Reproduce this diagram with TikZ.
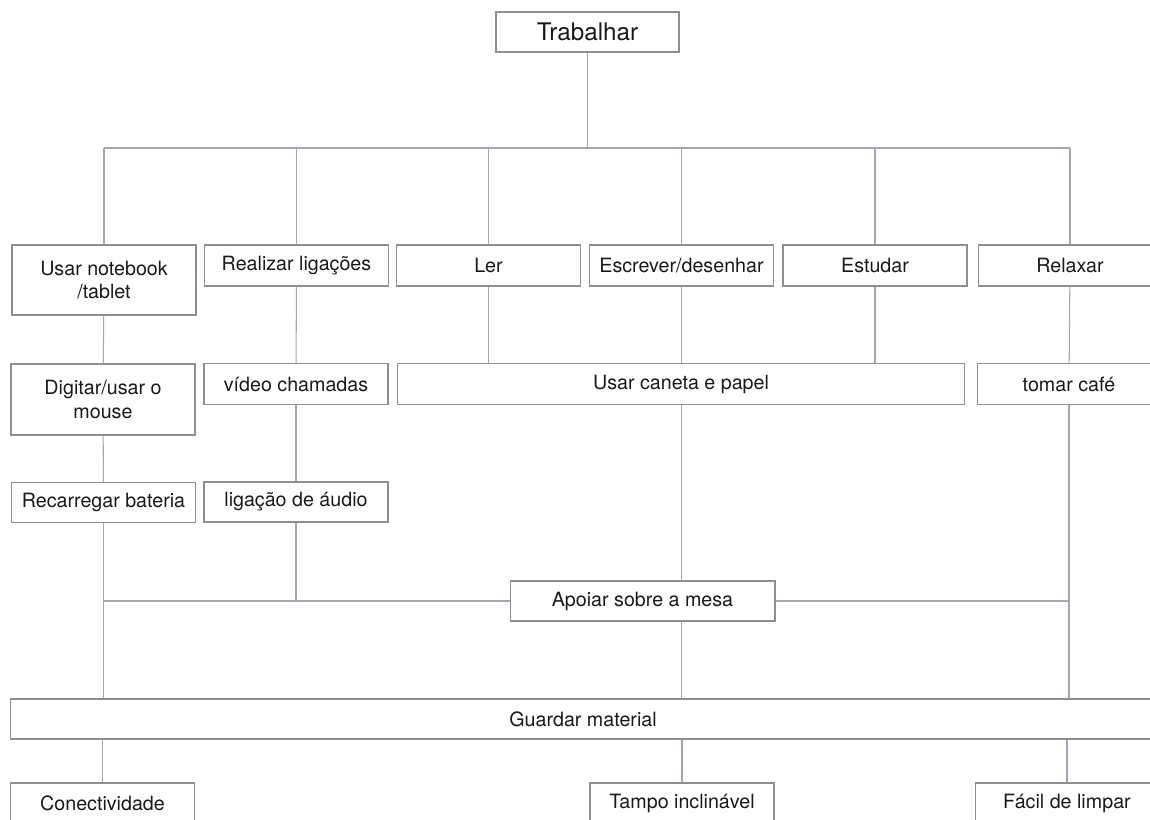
\documentclass[tikz,border=0pt]{standalone}
\usepackage{fontspec}
\setmainfont{TeX Gyre Heros}
\definecolor{boxline}{HTML}{8E8E98}
\definecolor{linkline}{HTML}{A6A6B2}

\begin{document}
\begin{tikzpicture}[x=0.02cm,y=-0.02cm,
  b/.style={draw=boxline,line width=0.6pt,minimum width=3.68cm,minimum height=0.82cm,inner sep=0pt,
    align=center,font=\fontsize{11.2}{13.6}\selectfont,text=black!90},
  e/.style={draw=linkline,line width=0.6pt}]
  \useasboundingbox (0,0) rectangle (1150,819);
  \clip (0,0) rectangle (1150,819);
  % top and the six uses
  \node[b,minimum width=3.66cm,minimum height=0.8cm,font=\fontsize{13.8}{16}\selectfont] (trab) at (587.5,32) {Trabalhar};
  \coordinate (bar) at (0,148);
  \node[b,minimum height=1.4cm] (usar) at (104,280) {Usar notebook\\/tablet};
  \node[b] (realiz) at (296.5,265.5) {Realizar ligações};
  \node[b] (ler) at (488.5,265.5) {Ler};
  \node[b] (escr) at (681.5,265.5) {Escrever/desenhar};
  \node[b] (estud) at (875,265.5) {Estudar};
  \node[b] (relax) at (1070,265.5) {Relaxar};
  \draw[e] (trab.south) -- (trab.south |- bar);
  \draw[e] (usar.north |- bar) -- (relax.north |- bar);
  \foreach \n in {usar,realiz,ler,escr,estud,relax} \draw[e] (\n.north) -- (\n.north |- bar);
  % second and third rows
  \node[b,minimum height=1.42cm] (digit) at (103,399.5) {Digitar/usar o\\mouse};
  \node[b] (video) at (296,384) {vídeo chamadas};
  \node[b,minimum width=11.36cm] (caneta) at (681,384) {Usar caneta e papel};
  \node[b] (cafe) at (1069,384) {tomar café};
  \node[b,minimum height=0.8cm] (recar) at (103.5,502.5) {Recarregar bateria};
  \node[b,minimum height=0.8cm] (audio) at (296,502) {ligação de áudio};
  \draw[e] (usar) -- (digit);
  \draw[e] (realiz) -- (video);
  \draw[e] (relax) -- (cafe);
  \foreach \n in {ler,escr,estud} \draw[e] (\n.south) -- (\n.south |- caneta.north);
  \draw[e] (digit) -- (recar);
  \draw[e] (video) -- (audio);
  % support and storage
  \node[b,minimum width=5.3cm,minimum height=0.8cm] (apoio) at (642.5,601) {Apoiar sobre a mesa};
  \node[b,minimum width=22.92cm,minimum height=0.8cm] (guard) at (583,719) {Guardar material};
  \draw[e] (recar.south) -- (recar.south |- guard.north);
  \draw[e] (audio.south) -- (audio.south |- apoio.west);
  \draw[e] (recar.south |- apoio.west) -- (apoio.west);
  \draw[e] (apoio.east) -- (cafe.south |- apoio.east);
  \draw[e] (escr.south |- caneta.south) -- (escr.south |- apoio.north);
  \draw[e] (escr.south |- apoio.south) -- (escr.south |- guard.north);
  \draw[e] (cafe.south) -- (cafe.south |- guard.north);
  % requirements
  \node[b,minimum height=0.8cm] (conect) at (102.5,803) {Conectividade};
  \node[b,minimum height=0.8cm] (tampo) at (682,803) {Tampo inclinável};
  \node[b,minimum height=0.8cm] (facil) at (1067,803) {Fácil de limpar};
  \foreach \n in {conect,tampo,facil} \draw[e] (\n.north |- guard.south) -- (\n.north);
\end{tikzpicture}
\end{document}
